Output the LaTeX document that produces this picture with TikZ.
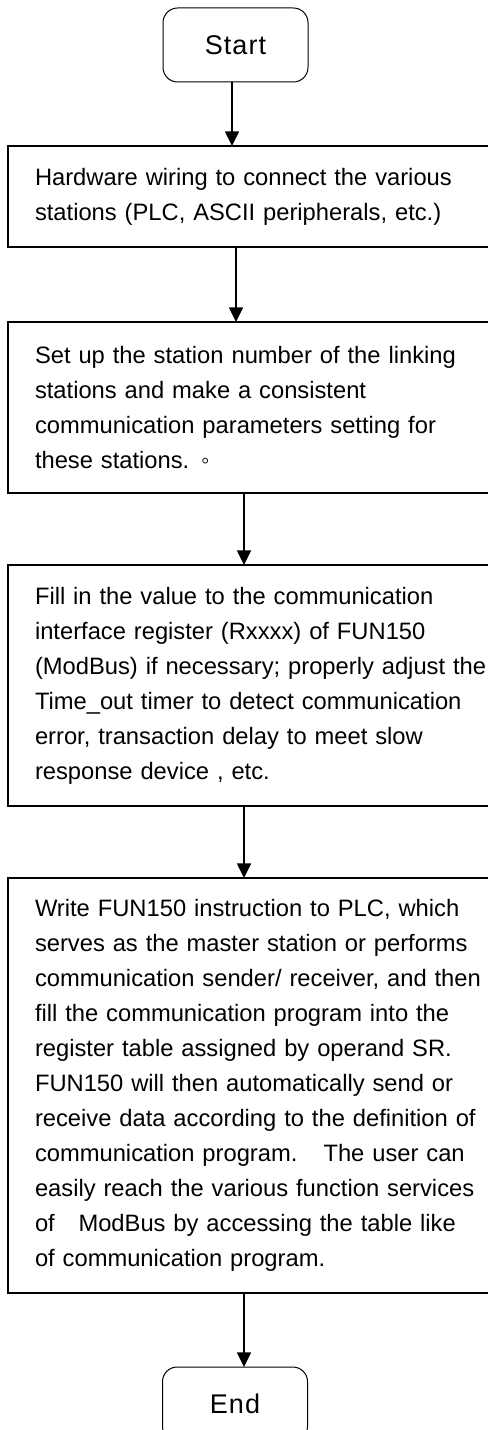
\documentclass[tikz,border=0pt]{standalone}
\usepackage{fontspec}
\setmainfont{Liberation Sans}
\usetikzlibrary{arrows.meta,calc}

\begin{document}
\begin{tikzpicture}[x=0.75pt, y=-0.75pt,
  term/.style={draw, line width=0.75pt, rounded corners=11pt, minimum width=108.75pt, minimum height=55.5pt, inner sep=0pt, outer sep=0pt, font=\fontsize{20.25}{24}\selectfont\addfontfeature{LetterSpace=4}},
  stepbox/.style={draw, line width=1.5pt, anchor=north west, align=left, text width=352pt, inner xsep=20.25pt, inner ysep=0pt, outer sep=0pt, font=\fontsize{17.8}{26.25}\selectfont},
  flow/.style={line width=1.1pt, -{Triangle[length=11pt, width=10.5pt]}}]
\useasboundingbox (0, 0) rectangle (488, 1430);

\node[term] (start) at (235.5, 45) {Start};

\node[stepbox, minimum height=75.75pt] (wiring) at (8, 146) {Hardware wiring to connect the various\\stations (PLC, ASCII peripherals, etc.)};

\node[stepbox, minimum height=128.25pt] (station) at (8, 322) {Set up the station number of the linking\\stations and make a consistent\\communication parameters setting for\\these stations. ◦};

\node[stepbox, minimum height=180.75pt] (register) at (8, 565) {Fill in the value to the communication\\interface register (Rxxxx) of FUN150\\(ModBus) if necessary; properly adjust the\\Time\_out timer to detect communication\\error, transaction delay to meet slow\\response device , etc.};

\node[stepbox, minimum height=311.25pt] (program) at (8, 878) {Write FUN150 instruction to PLC, which\\serves as the master station or performs\\communication sender/ receiver, and then\\fill the communication program into the\\register table assigned by operand SR.\\FUN150 will then automatically send or\\receive data according to the definition of\\communication program.\hspace{1.1em}The user can\\easily reach the various function services\\of\hspace{1em}ModBus by accessing the table like\\of communication program.};

\node[term] (end) at (235, 1404) {End};

\draw[flow] ($(start.south)+(-3.5, 0)$) -- ($(start.south |- wiring.north)+(-3.5, 0)$);
\draw[flow] ($(wiring.south -| start)+(0.5, 0)$) -- ($(station.north -| start)+(0.5, 0)$);
\draw[flow] ($(station.south -| start)+(8.5, 0)$) -- ($(register.north -| start)+(8.5, 0)$);
\draw[flow] ($(register.south -| start)+(8.5, 0)$) -- ($(program.north -| start)+(8.5, 0)$);
\draw[flow] ($(program.south -| end)+(9, 0)$) -- ($(end.north)+(9, 0)$);
\end{tikzpicture}
\end{document}
